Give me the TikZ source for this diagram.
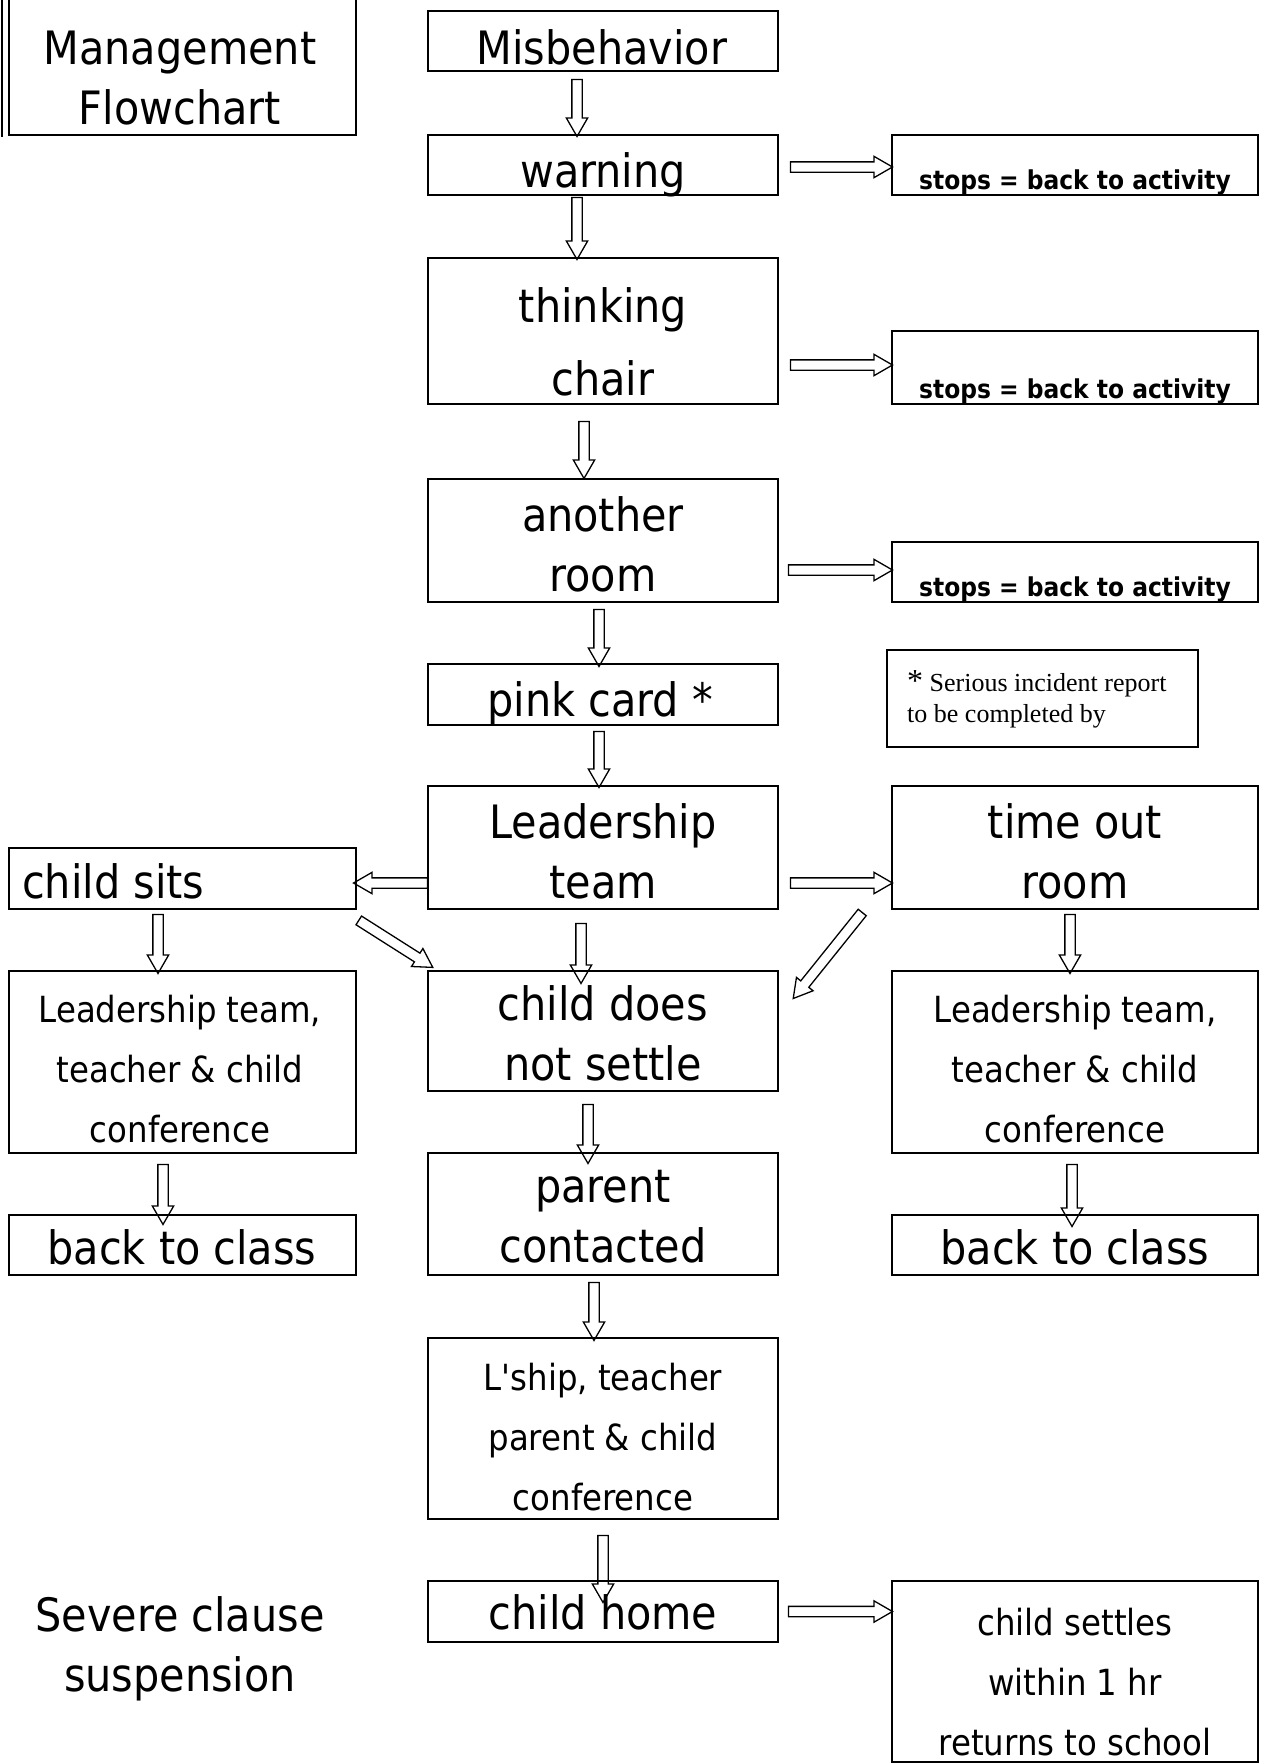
\documentclass[tikz,border=0pt]{standalone}
\usepackage{fontspec}
\setmainfont{DejaVu Sans Condensed}
\newfontfamily\notefont{Liberation Serif}
\usetikzlibrary{shapes.arrows,calc}

\tikzset{
  box/.style={draw, line width=2pt, inner sep=0pt},
  big/.style={anchor=base, inner sep=0pt, align=center, font=\fontsize{46}{60}\selectfont},
  small/.style={anchor=base, inner sep=0pt, align=center, font=\fontsize{36}{60}\selectfont},
  stops/.style={anchor=base, inner sep=0pt, font=\bfseries\fontsize{26}{26}\selectfont},
  hollow/.style={draw, line width=1.3pt, single arrow, inner sep=4.5pt,
    single arrow head extend=5.5pt, single arrow tip angle=60}
}

% hollow block arrow from #1 to #2
\newcommand{\push}[2]{%
  \path let \p1=#1, \p2=#2, \n1={veclen(\x2-\x1,\y2-\y1)},
    \n2={atan2(\y2-\y1,\x2-\x1)} in
    node[hollow, minimum height=\n1, rotate=\n2] at ($(\p1)!.5!(\p2)$) {};}

\begin{document}
\begin{tikzpicture}[x=1pt, y=-1pt]
\useasboundingbox (0,0) rectangle (1267,1764);
% boxes
\node[box, minimum width=347pt, minimum height=145pt] (title) at (182.5,62.5) {};
\node[box, minimum width=350pt, minimum height=60pt] (misb) at (603,41) {};
\node[box, minimum width=350pt, minimum height=60pt] (warn) at (603,165) {};
\node[box, minimum width=366pt, minimum height=60pt] (stop1) at (1075,165) {};
\node[box, minimum width=350pt, minimum height=146pt] (think) at (603,331) {};
\node[box, minimum width=366pt, minimum height=73pt] (stop2) at (1075,367.5) {};
\node[box, minimum width=350pt, minimum height=123pt] (room) at (603,540.5) {};
\node[box, minimum width=366pt, minimum height=60pt] (stop3) at (1075,572) {};
\node[box, minimum width=350pt, minimum height=61pt] (pink) at (603,694.5) {};
\node[box, line width=1.5pt, minimum width=311pt, minimum height=97pt] (note) at (1042.5,698.5) {};
\node[box, minimum width=350pt, minimum height=123pt] (lead) at (603,847.5) {};
\node[box, minimum width=366pt, minimum height=123pt] (tout) at (1075,847.5) {};
\node[box, minimum width=347pt, minimum height=61pt] (sits) at (182.5,878.5) {};
\node[box, minimum width=347pt, minimum height=182pt] (confL) at (182.5,1062) {};
\node[box, minimum width=350pt, minimum height=120pt] (nosettle) at (603,1031) {};
\node[box, minimum width=366pt, minimum height=182pt] (confR) at (1075,1062) {};
\node[box, minimum width=347pt, minimum height=60pt] (backL) at (182.5,1245) {};
\node[box, minimum width=350pt, minimum height=122pt] (parent) at (603,1214) {};
\node[box, minimum width=366pt, minimum height=60pt] (backR) at (1075,1245) {};
\node[box, minimum width=350pt, minimum height=181pt] (lship) at (603,1428.5) {};
\node[box, minimum width=350pt, minimum height=61pt] (home) at (603,1611.5) {};
\node[box, minimum width=366pt, minimum height=181pt] (settles) at (1075,1671.5) {};
\draw[line width=1.5pt] (2,0) -- (2,137);
% texts (base = last line)
\node[big] (titlet) at (180,124) {Management\\Flowchart};
\node[big] (misbt) at (602,64) {Misbehavior};
\node[big] (warnt) at (603,187) {warning};
\node[stops] (stop1t) at (1075,189) {stops = back to activity};
\node[big] (thinkt) at (603,395) {thinking\\[13pt]chair};
\node[stops] (stop2t) at (1075,398) {stops = back to activity};
\node[big] (roomt) at (603,591) {another\\room};
\node[stops] (stop3t) at (1075,596) {stops = back to activity};
\node[big] (pinkt) at (600,716) {pink card *};
\node[anchor=base west, inner sep=0pt, align=left, font=\notefont\fontsize{26}{31}\selectfont]
  (notet) at (907,722) {{\fontsize{32}{31}\selectfont *} Serious incident report\\to be completed by};
\node[big] (leadt) at (603,898) {Leadership\\team};
\node[big] (toutt) at (1075,898) {time out\\room};
\node[big, anchor=base west] (sitst) at (22,898) {child sits};
\node[small] (confLt) at (180,1142) {Leadership team,\\teacher \& child\\conference};
\node[big] (nosettlet) at (603,1080) {child does\\not settle};
\node[small] (confRt) at (1075,1142) {Leadership team,\\teacher \& child\\conference};
\node[big] (parentt) at (603,1262) {parent\\contacted};
\node[big] (backLt) at (182,1264) {back to class};
\node[big] (backRt) at (1075,1264) {back to class};
\node[small] (lshipt) at (603,1510) {L\textquotesingle ship, teacher\\parent \& child\\conference};
\node[big] (homet) at (603,1629) {child home};
\node[small] (settlest) at (1075,1755) {child settles\\within 1 hr\\returns to school};
\node[big] (severet) at (180,1691) {Severe clause\\suspension};
% arrows
\push{($(misb.south)+(-26,3)$)}{($(warn.north)+(-26,-2)$)}
\push{($(warn.south)+(-26,-3)$)}{($(think.north)+(-26,-2)$)}
\push{($(think.south)+(-19,12)$)}{($(room.north)+(-19,-4)$)}
\push{($(warn.east)+(7,2)$)}{($(stop1.west)+(-3,2)$)}
\push{($(think.east)+(7,34)$)}{($(stop2.west)+(-3,-2.5)$)}
\push{($(room.east)+(5,29.5)$)}{($(stop3.west)+(-3,-2)$)}
\push{($(room.south)+(-4,2)$)}{($(pink.north)+(-4,-1)$)}
\push{($(pink.south)+(-4,1)$)}{($(lead.north)+(-4,-2)$)}
\push{($(lead.west)+(5,35.5)$)}{($(sits.east)+(1,4.5)$)}
\push{($(sits.south east)+(-2,8)$)}{($(nosettle.north west)+(2,-5)$)}
\push{($(lead.south)+(-22,9)$)}{($(nosettle.north)+(-22,9)$)}
\push{($(lead.east)+(7,35.5)$)}{($(tout.west)+(-3,35.5)$)}
\push{($(tout.south west)+(-26,-1)$)}{($(nosettle.north east)+(17,25)$)}
\push{($(sits.south)+(-24.5,0)$)}{($(confL.north)+(-24.5,-1)$)}
\push{($(tout.south)+(-5,0)$)}{($(confR.north)+(-5,-1)$)}
\push{($(confL.south)+(-19.5,6)$)}{($(backL.north)+(-19.5,6)$)}
\push{($(confR.south)+(-3,6)$)}{($(backR.north)+(-3,8)$)}
\push{($(nosettle.south)+(-15,8)$)}{($(parent.north)+(-15,7)$)}
\push{($(parent.south)+(-9,2)$)}{($(lship.north)+(-9,-1)$)}
\push{($(lship.south)+(0,11)$)}{($(home.north)+(0,18)$)}
\push{($(home.east)+(5,0)$)}{($(settles.west)+(-3,-60)$)}
\end{tikzpicture}
\end{document}
